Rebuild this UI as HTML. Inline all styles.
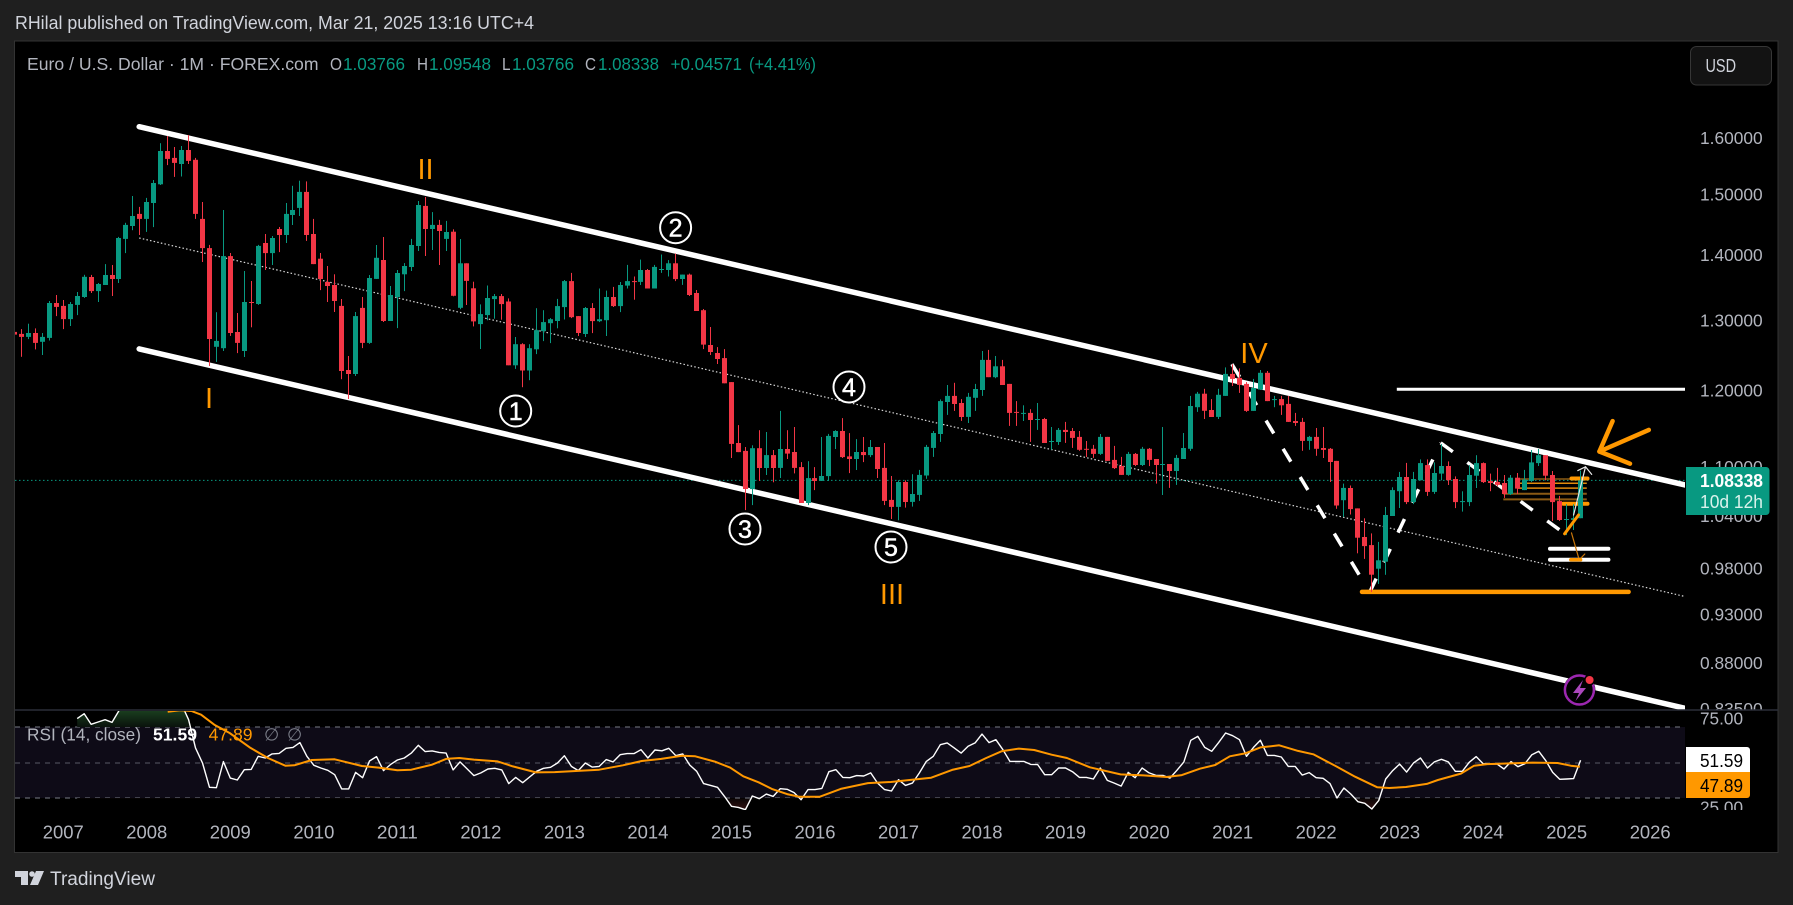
<!DOCTYPE html>
<html lang="en">
<head>
<meta charset="utf-8">
<title>EUR/USD Monthly Chart</title>
<style>
html,body{margin:0;padding:0;background:#1f1f1f;}
svg{display:block;font-family:"Liberation Sans",sans-serif;}
</style>
</head>
<body>
<svg id="chart" xmlns="http://www.w3.org/2000/svg" width="1793" height="905" viewBox="0 0 1793 905">
  <defs>
    <clipPath id="clip-main"><rect x="15" y="42" width="1670" height="668"/></clipPath>
    <clipPath id="clip-rsi"><rect x="15" y="711" width="1670" height="99"/></clipPath>
    <clipPath id="clip-above70"><rect x="15" y="711" width="1670" height="16"/></clipPath>
    <clipPath id="clip-below30"><rect x="15" y="798" width="1670" height="12"/></clipPath>
    <clipPath id="clip-price-axis"><rect x="1686" y="42" width="90" height="668"/></clipPath>
    <clipPath id="clip-rsi-axis"><rect x="1686" y="711" width="90" height="99"/></clipPath>
    <linearGradient id="ob-grad" gradientUnits="userSpaceOnUse" x1="0" y1="706" x2="0" y2="727">
      <stop offset="0" stop-color="#1f4a24"/><stop offset="1" stop-color="#0a120c"/>
    </linearGradient>
    <linearGradient id="os-grad" gradientUnits="userSpaceOnUse" x1="0" y1="798" x2="0" y2="812">
      <stop offset="0" stop-color="#0a0505"/><stop offset="1" stop-color="#3a1414"/>
    </linearGradient>
  </defs>

  <rect x="0" y="0" width="1793" height="905" fill="#1f1f1f"/>
  <text x="15" y="29" font-size="18" fill="#d1d4dc" textLength="519" lengthAdjust="spacingAndGlyphs">RHilal published on TradingView.com, Mar 21, 2025 13:16 UTC+4</text>

  <rect x="14.5" y="41" width="1763.5" height="811.5" fill="#000" stroke="#333" stroke-width="1"/>
  <rect x="15" y="727" width="1670" height="71" fill="#0e0b17"/>

  <g id="price-axis" clip-path="url(#clip-price-axis)"></g>
  <g id="main-under" clip-path="url(#clip-main)"></g>
  <g id="candles" clip-path="url(#clip-main)"></g>
  <g id="main-over" clip-path="url(#clip-main)"></g>

  <g>
    <text x="209" y="408" font-size="29" fill="#ff9800" text-anchor="middle">I</text>
    <text x="425.5" y="179" font-size="29" fill="#ff9800" text-anchor="middle">II</text>
    <text x="892" y="604" font-size="29" fill="#ff9800" text-anchor="middle">III</text>
    <text x="1254" y="363" font-size="29" fill="#ff9800" text-anchor="middle">IV</text>
    <g><circle cx="515.7" cy="411" r="15.5" fill="none" stroke="#fff" stroke-width="2"/><text x="515.7" y="420" font-size="25" fill="#fff" text-anchor="middle" stroke="#fff" stroke-width="0.5">1</text></g>
    <g><circle cx="675.6" cy="227.7" r="15.5" fill="none" stroke="#fff" stroke-width="2"/><text x="675.6" y="236.7" font-size="25" fill="#fff" text-anchor="middle" stroke="#fff" stroke-width="0.5">2</text></g>
    <g><circle cx="745" cy="529" r="15.5" fill="none" stroke="#fff" stroke-width="2"/><text x="745" y="538" font-size="25" fill="#fff" text-anchor="middle" stroke="#fff" stroke-width="0.5">3</text></g>
    <g><circle cx="849" cy="387" r="15.5" fill="none" stroke="#fff" stroke-width="2"/><text x="849" y="396" font-size="25" fill="#fff" text-anchor="middle" stroke="#fff" stroke-width="0.5">4</text></g>
    <g><circle cx="891" cy="547" r="15.5" fill="none" stroke="#fff" stroke-width="2"/><text x="891" y="556" font-size="25" fill="#fff" text-anchor="middle" stroke="#fff" stroke-width="0.5">5</text></g>
  </g>

  <g>
    <circle cx="1579.4" cy="690" r="16" fill="#000"/>
    <circle cx="1579.4" cy="690" r="14.5" fill="none" stroke="#9c27b0" stroke-width="2.5"/>
    <path d="M1583 680 L1573 693 L1579 693 L1575.5 701 L1586 688 L1580 688 Z" fill="#ab47bc"/>
    <circle cx="1589.6" cy="680" r="5.5" fill="#000"/>
    <circle cx="1589.6" cy="680" r="4" fill="#f23645"/>
  </g>

  <line x1="15" y1="710" x2="1778" y2="710" stroke="#2a2e39" stroke-width="1.5"/>

  <g>
    <line x1="15" y1="727" x2="1685" y2="727" stroke="#787b86" stroke-dasharray="5 5"/>
    <line x1="15" y1="763" x2="1685" y2="763" stroke="#787b86" stroke-opacity=".7" stroke-dasharray="5 5"/>
    <line x1="15" y1="798" x2="1685" y2="798" stroke="#787b86" stroke-dasharray="5 5"/>
  </g>
  <g id="rsi-pane"></g>
  <g id="rsi-axis" clip-path="url(#clip-rsi-axis)"></g>
  <g id="time-axis"></g>

  <g font-size="17.5">
    <text x="27" y="70" fill="#b2b5be" textLength="291.5" lengthAdjust="spacingAndGlyphs">Euro / U.S. Dollar · 1M · FOREX.com</text>
    <text x="330" y="70" fill="#b2b5be" textLength="12" lengthAdjust="spacingAndGlyphs">O</text>
    <text x="343" y="70" fill="#089981" textLength="62" lengthAdjust="spacingAndGlyphs">1.03766</text>
    <text x="417" y="70" fill="#b2b5be" textLength="11" lengthAdjust="spacingAndGlyphs">H</text>
    <text x="429" y="70" fill="#089981" textLength="62" lengthAdjust="spacingAndGlyphs">1.09548</text>
    <text x="502" y="70" fill="#b2b5be" textLength="8.5" lengthAdjust="spacingAndGlyphs">L</text>
    <text x="512" y="70" fill="#089981" textLength="62" lengthAdjust="spacingAndGlyphs">1.03766</text>
    <text x="585" y="70" fill="#b2b5be" textLength="11" lengthAdjust="spacingAndGlyphs">C</text>
    <text x="598" y="70" fill="#089981" textLength="61" lengthAdjust="spacingAndGlyphs">1.08338</text>
    <text x="670.5" y="70" fill="#089981" textLength="71.5" lengthAdjust="spacingAndGlyphs">+0.04571</text>
    <text x="749" y="70" fill="#089981" textLength="67" lengthAdjust="spacingAndGlyphs">(+4.41%)</text>
  </g>

  <g font-size="17.5">
    <text x="27" y="740.5" fill="#b2b5be" textLength="114" lengthAdjust="spacingAndGlyphs">RSI (14, close)</text>
    <text x="153" y="740.5" fill="#fff" font-weight="bold" textLength="44" lengthAdjust="spacingAndGlyphs">51.59</text>
    <text x="208.6" y="740.5" fill="#ff9800" textLength="44" lengthAdjust="spacingAndGlyphs">47.89</text>
    <text x="264" y="740.5" fill="#787b86">∅</text>
    <text x="287" y="740.5" fill="#787b86">∅</text>
  </g>

  <g>
    <rect x="1690.5" y="46.5" width="81" height="38.5" rx="6" fill="#131313" stroke="#363636"/>
    <text x="1705.5" y="72" font-size="18.5" fill="#d1d4dc" textLength="30.5" lengthAdjust="spacingAndGlyphs">USD</text>
  </g>

  <g>
    <path d="M1686 467 H1766 a3.5 3.5 0 0 1 3.5 3.5 V511.5 a3.5 3.5 0 0 1 -3.5 3.5 H1686 Z" fill="#089981"/>
    <text x="1700" y="487" font-size="18" fill="#fff" font-weight="bold" textLength="63" lengthAdjust="spacingAndGlyphs">1.08338</text>
    <text x="1700" y="508" font-size="18" fill="#d9f2ec" textLength="63" lengthAdjust="spacingAndGlyphs">10d 12h</text>
  </g>

  <g>
    <path d="M1686 747 H1747 a3 3 0 0 1 3 3 V772 H1686 Z" fill="#fff"/>
    <text x="1700" y="767" font-size="18" fill="#000" textLength="43" lengthAdjust="spacingAndGlyphs">51.59</text>
    <path d="M1686 772 H1750 V795 a3 3 0 0 1 -3 3 H1686 Z" fill="#ff9800"/>
    <text x="1700" y="792" font-size="18" fill="#000" textLength="43" lengthAdjust="spacingAndGlyphs">47.89</text>
  </g>

  <g>
    <path d="M15 871 H28 V885 H21 V877 H15 Z M36 871 H44 L38 885 H30 Z" fill="#d1d4dc"/>
    <circle cx="32" cy="874" r="2.8" fill="#d1d4dc"/>
    <text x="50" y="885" font-size="19" fill="#d1d4dc" textLength="105" lengthAdjust="spacingAndGlyphs">TradingView</text>
  </g>
</svg>

<script>
// ---------- candle data: monthly bars, first bar = June 2006 ----------
const firstBarYear = 2006;
const firstBarMonth = 6;
const opens = [
1.283,1.28,1.2757,1.2814,1.2686,1.2742,1.3259,1.3215,1.3018,1.323,
1.335,1.3658,1.344,1.3534,1.3689,1.3627,1.4263,1.4474,1.4675,1.4592,
1.4858,1.5178,1.5765,1.5642,1.5533,1.5783,1.5607,1.4592,1.4115,1.2614,
1.2594,1.3987,1.2828,1.2553,1.3274,1.3244,1.4197,1.4035,1.4425,1.4327,
1.4656,1.4777,1.5048,1.4343,1.3945,1.358,1.3534,1.3215,1.2285,1.2229,
1.3185,1.267,1.3627,1.3925,1.299,1.3349,1.37,1.3814,1.4148,1.4809,
1.4425,1.4492,1.4263,1.4381,1.3186,1.3872,1.3482,1.2944,1.3077,1.3319,
1.3364,1.3282,1.2351,1.2651,1.2278,1.2579,1.284,1.2958,1.299,1.3198,
1.3594,1.3062,1.2798,1.3183,1.2988,1.3002,1.335,1.3212,1.3524,1.3594,
1.358,1.3766,1.3479,1.3766,1.3766,1.3872,1.3625,1.3694,1.341,1.315,
1.2639,1.2525,1.2453,1.2116,1.1305,1.1203,1.0727,1.1238,1.0988,1.115,
1.0988,1.1227,1.1189,1.0999,1.0558,1.0862,1.0826,1.0887,1.1382,1.146,
1.1133,1.11,1.1189,1.115,1.1253,1.0988,1.0595,1.0511,1.0814,1.0571,
1.0655,1.0893,1.1241,1.1421,1.1845,1.1928,1.1832,1.1645,1.1902,1.2008,
1.2427,1.2185,1.2337,1.2092,1.1712,1.169,1.1699,1.1605,1.1618,1.1318,
1.1318,1.1475,1.146,1.1383,1.123,1.123,1.1165,1.1383,1.1089,1.1012,
1.0901,1.1165,1.1025,1.123,1.1101,1.1025,1.1038,1.095,1.1101,1.123,
1.1775,1.1957,1.1738,1.1645,1.1928,1.223,1.2174,1.2092,1.1726,1.2013,
1.2245,1.187,1.1884,1.1819,1.1592,1.1579,1.1331,1.1383,1.1241,1.123,
1.1076,1.0591,1.074,1.0493,1.0157,1.0063,.9797,.9875,1.0402,1.07,
1.0875,1.0569,1.0835,1.1024,1.0692,1.0917,1.1012,1.0851,1.0569,1.0569,
1.0892,1.1049,1.0825,1.0813,1.0801,1.0667,1.0867,1.0714,1.0825,1.1049,
1.1149,1.09,1.0581,1.0356,1.0356,1.03766];
const highs = [
1.284,1.287,1.295,1.288,1.2814,1.3289,1.338,1.3304,1.3274,1.3426,
1.3691,1.369,1.3564,1.386,1.3845,1.4295,1.4527,1.4978,1.4793,1.4944,
1.5253,1.5905,1.6037,1.5836,1.5854,1.6055,1.5642,1.4875,1.4166,1.312,
1.474,1.4035,1.3109,1.3751,1.3595,1.4166,1.4343,1.431,1.4457,1.4858,
1.5153,1.5241,1.5228,1.4592,1.4035,1.383,1.3699,1.332,1.2482,1.3123,
1.3349,1.3689,1.4165,1.4294,1.3518,1.3767,1.3875,1.4263,1.4892,1.496,
1.4705,1.4575,1.4558,1.442,1.4261,1.3872,1.3585,1.3238,1.3525,1.3396,
1.3396,1.3328,1.2755,1.2666,1.2651,1.318,1.315,1.3032,1.3321,1.361,
1.3721,1.3062,1.3198,1.3258,1.3479,1.3448,1.3504,1.358,1.3847,1.3665,
1.3931,1.3782,1.3847,1.4012,1.3923,1.4028,1.3694,1.371,1.3456,1.3168,
1.2901,1.261,1.2581,1.2116,1.1538,1.1253,1.1275,1.147,1.1447,1.1215,
1.1725,1.147,1.1512,1.1061,1.1073,1.0999,1.1382,1.1423,1.147,1.163,
1.1433,1.1355,1.1382,1.1343,1.1253,1.1305,1.0887,1.0835,1.0835,1.091,
1.0963,1.128,1.146,1.188,1.2077,1.2107,1.1884,1.1969,1.2092,1.2554,
1.2569,1.2482,1.2427,1.2092,1.1857,1.1801,1.1748,1.1832,1.1632,1.1512,
1.1499,1.1579,1.1499,1.146,1.1331,1.128,1.1421,1.1383,1.1267,1.1127,
1.119,1.1177,1.1254,1.1241,1.1101,1.1513,1.1038,1.1152,1.1434,1.1928,
1.1982,1.2025,1.1884,1.2025,1.2321,1.2364,1.2307,1.2116,1.2161,1.2285,
1.2271,1.1928,1.1928,1.1928,1.1699,1.1632,1.1396,1.1499,1.1513,1.1241,
1.1076,1.0794,1.077,1.0493,1.0375,1.0199,1.01,1.0511,1.0748,1.0938,
1.1051,1.0938,1.1095,1.1095,1.1057,1.1291,1.107,1.0883,1.07,1.1024,
1.1149,1.1057,1.0917,1.0988,1.09,1.09,1.0925,1.0963,1.1215,1.1227,
1.1149,1.095,1.0643,1.0544,1.0544,1.09548];
const lows = [
1.278,1.247,1.2725,1.2575,1.2497,1.2705,1.3063,1.287,1.2916,1.3078,
1.3335,1.341,1.3274,1.3534,1.3365,1.3564,1.4035,1.4405,1.4327,1.4376,
1.4457,1.5166,1.5515,1.5306,1.5312,1.5533,1.4592,1.3893,1.2341,1.2398,
1.2553,1.2771,1.2524,1.2468,1.2897,1.323,1.3767,1.3845,1.405,1.4197,
1.4492,1.464,1.4231,1.386,1.3455,1.3274,1.3123,1.2157,1.1885,1.22,
1.2594,1.2656,1.3627,1.2975,1.299,1.2885,1.344,1.3751,1.4067,1.3987,
1.4083,1.3845,1.4067,1.336,1.3165,1.3229,1.2911,1.2583,1.2999,1.3024,
1.3009,1.2351,1.23,1.2047,1.2143,1.2509,1.2695,1.2666,1.2883,1.3012,
1.3032,1.277,1.2755,1.2813,1.2973,1.277,1.3198,1.3122,1.3479,1.3308,
1.3534,1.3479,1.3479,1.3721,1.3665,1.3594,1.3534,1.3364,1.3138,1.258,
1.2496,1.2369,1.2101,1.1113,1.1189,1.0473,1.0533,1.0825,1.09,1.081,
1.0862,1.11,1.092,1.0558,1.0533,1.0715,1.0826,1.0826,1.1227,1.1113,
1.0924,1.0962,1.1061,1.1124,1.0862,1.0533,1.0367,1.0353,1.0503,1.0515,
1.0583,1.0853,1.1127,1.1318,1.1672,1.1726,1.1592,1.1565,1.1726,1.1928,
1.2185,1.2171,1.2077,1.1527,1.1527,1.1592,1.1318,1.1475,1.1305,1.1217,
1.128,1.1305,1.1241,1.1204,1.1127,1.1114,1.1152,1.1076,1.0975,1.0901,
1.0889,1.1012,1.1012,1.1012,1.0794,1.0655,1.0741,1.0778,1.1101,1.1204,
1.1712,1.1618,1.1645,1.1618,1.1928,1.2062,1.1969,1.1712,1.1726,1.2008,
1.1857,1.1775,1.1672,1.1579,1.1527,1.1204,1.1217,1.114,1.1114,1.0814,
1.0488,1.0392,1.042,.997,.9906,.954,.9628,.9729,1.0402,1.0497,
1.0544,1.0544,1.0835,1.0643,1.0667,1.0835,1.0777,1.0497,1.0456,1.0521,
1.074,1.0801,1.07,1.076,1.0619,1.0655,1.0667,1.0714,1.0813,1.1012,
1.0835,1.0344,1.0344,1.0179,1.0239,1.03766];
const closes = [
1.279,1.2757,1.2814,1.267,1.2757,1.3259,1.32,1.3018,1.3244,1.3365,
1.366,1.344,1.3549,1.3689,1.3627,1.4278,1.4492,1.464,1.4592,1.4875,
1.5201,1.5765,1.5624,1.5554,1.5783,1.5589,1.4675,1.4115,1.2727,1.2699,
1.3987,1.2814,1.267,1.3274,1.3259,1.415,1.4035,1.4278,1.4327,1.4675,
1.474,1.5048,1.4327,1.386,1.3627,1.3518,1.3289,1.227,1.2229,1.3063,
1.267,1.3642,1.3959,1.299,1.338,1.372,1.383,1.4165,1.4825,1.4425,
1.4492,1.4392,1.4376,1.3368,1.3872,1.3596,1.2983,1.3092,1.3334,1.3364,
1.3243,1.2351,1.2651,1.2278,1.2594,1.2855,1.2973,1.3017,1.3212,1.3594,
1.3047,1.2813,1.3183,1.2988,1.3017,1.335,1.3212,1.3534,1.3594,1.358,
1.3766,1.3479,1.3815,1.3782,1.3872,1.3625,1.3694,1.338,1.3138,1.2645,
1.2539,1.2439,1.2101,1.1292,1.1189,1.0727,1.1238,1.0988,1.115,1.0988,
1.1227,1.1168,1.0988,1.0558,1.0862,1.0826,1.0887,1.1397,1.146,1.1124,
1.11,1.1189,1.115,1.1253,1.0975,1.0583,1.0511,1.0813,1.0571,1.0667,
1.0901,1.1254,1.1434,1.1857,1.1928,1.1819,1.1645,1.1915,1.2022,1.2427,
1.2185,1.2337,1.2077,1.1699,1.1699,1.1699,1.1605,1.1618,1.1305,1.1331,
1.1475,1.1447,1.137,1.1217,1.1217,1.1165,1.1383,1.1076,1.0986,1.0901,
1.1165,1.1025,1.123,1.1089,1.1025,1.1038,1.095,1.1114,1.1241,1.1791,
1.1957,1.1726,1.1645,1.1942,1.223,1.2161,1.2077,1.1726,1.2036,1.2245,
1.1857,1.1884,1.1801,1.1579,1.1565,1.1331,1.1383,1.123,1.1217,1.1063,
1.0527,1.0741,1.0485,1.0149,1.0052,.9729,.9891,1.0414,1.0714,1.0875,
1.0569,1.0851,1.1049,1.0692,1.0925,1.1012,1.0835,1.0569,1.0581,1.09,
1.1049,1.0813,1.0801,1.0777,1.0667,1.0867,1.0733,1.0843,1.1057,1.1149,
1.0892,1.0569,1.0356,1.0367,1.03766,1.08338];
const lastPrice = 1.08338;

// ---------- RSI data: starts March 2007 (bar 9) ----------
const rsiFirstBar = 9;
const rsiValues = [
75,77.8,71.8,73.1,74.4,72.9,79.5,
82,84,85,83,85,86,87,84,83,74.4,
58.5,50,36.3,36.1,50.8,41.5,40.4,46.2,46.4,53.8,52.8,55.1,55.4,58.3,58.8,61.5,53.8,48.7,47.2,45.9,
43.4,35.4,35.4,44.7,41.7,51.1,53.6,45.7,49.1,51.7,52.8,55.6,60,56.4,56.8,56,55.6,46.1,50.6,46.8,
42.9,44.4,46.6,47,46.1,38.4,41.9,38.9,42.1,45.3,47,47.6,50,54.1,48.1,45.7,50,47.7,
48.1,51.9,50.6,54.7,55.3,55.3,57.5,52.8,57.3,56.9,58.3,54.1,55.1,48.9,45.3,38.4,37.4,36.3,31.2,25.6,
25,23.7,31.4,29.9,32.5,31.2,35.5,35.2,33.3,29.3,35,35,35.7,45.1,46.2,41.9,41.7,42.9,42.7,44.4,
38.7,35,34.2,40.6,37.4,38.7,44.4,50.9,53.8,60.3,61.3,58.5,55.6,59.4,61.3,66.3,61.5,63.1,57.5,50.9,
50.9,50.9,49.2,49.1,43.4,43.4,47.2,47.2,45.1,41.9,41.9,41,47.2,40.2,38.7,37,44.7,41.7,47.2,44.4,
43,43,41.5,45.9,50.6,62.8,65,
58.8,56.6,61.6,66.9,65.4,63.1,53.8,58.8,62.8,54.3,54.3,53.4,48.1,48.1,43.2,44.6,41.7,41.4,38.4,30.3,
35.9,32.5,28.2,27.3,24.1,28.8,41,45.7,49.4,44.9,50,52.8,47.2,50.6,52.1,50.6,45.3,45.3,50.4,53.6,
49.6,49.4,49.4,46.6,50.8,47.9,49.6,54.7,56.6,51.3,44.7,40.8,41,41.2,51.59];
// RSI moving average, read at the marked months (months since January 2007)
const rsiMaMonths = [15,16.8,18.4,19.8,21.7,23.9,26.9,29.4,31.9,33.2,35.7,39,42.9,45.3,48,50,53,55,56.9,59,62.4,64.6,67.9,70.6,
77,80.4,83.1,85.9,88.9,90.8,93.6,95.8,97.7,99.9,101.8,104,105.7,108.7,111.7,115.6,118.9,121.6,124.7,127.7,130.2,132.6,134.8,137.3,139.5,142,144.2,147.5,151.9,155.2,158.5,160.7,163.3,
165.5,167.6,169.8,172,174.7,177.4,179.6,182.9,185.6,188.8,190.5,192.9,195.9,197.5,200.8,202.7,204.6,207.9,211.1,214.7,216.6,217.9];
const rsiMaValues = [78.9,79.7,79.3,77.2,71.6,66.9,58.5,52.8,48.5,48.7,51.7,52.1,48.3,47.4,45.9,46.2,49.1,52.3,52.8,51.9,50.9,48.1,44.7,44.9,
46.2,48.7,51.1,52.3,54.1,53.8,50.8,47.4,42.5,39.1,35.4,32.5,31,31,35.4,38.7,39.3,40.4,41.7,46.1,48.3,52.8,56.6,58.1,57.3,54.7,52.8,47.6,43.6,43,42.1,43.2,46.8,
48.9,53.8,55.4,58.8,60,56.8,54.9,48.1,42.3,36.3,35.9,36.5,38.2,40.4,44,48.5,49.4,49.8,50.2,50,48.5,47.89];

// ---------- axis labels ----------
const priceTicks = [1.6,1.5,1.4,1.3,1.2,1.1,1.04,0.98,0.93,0.88,0.835];
const priceTickLabels = ['1.60000','1.50000','1.40000','1.30000','1.20000','1.10000','1.04000','0.98000','0.93000','0.88000','0.83500'];
const yearLabels = [2007,2008,2009,2010,2011,2012,2013,2014,2015,2016,2017,2018,2019,2020,2021,2022,2023,2024,2025,2026];
const rsiTicks = [75,25];
const rsiTickLabels = ['75.00','25.00'];

// ---------- drawings: [months since January 2007, price] ----------
const channelUpper = [[10.9,1.6207],[233,1.0776]];
const channelLower = [[10.9,1.2584],[233,0.8357]];
const channelMiddle = [[10.9,1.4278],[233,0.9491]];
const zigzagDown = [[167.9,1.2368],[187.7,0.9538]];
const zigzagUp = [[187.7,0.9538],[197.9,1.1306]];
const zigzagLast = [[197.9,1.1306],[215,1.0238]];
const resistanceLevel = [[191.6,1.2019],[233,1.2019]];
const supportLevel = [[186.6,0.9541],[224.9,0.9541]];
const targetUpper = [[213.6,1.0022],[222,1.0022]];
const targetLower = [[213.6,0.9896],[222,0.9896]];
const ladderOne = [[209,1.0851],[218.9,1.0851]];
const ladderTwo = [[209,1.0798],[218.9,1.0798]];
const ladderThree = [[209,1.0738],[218.9,1.0738]];
const ladderFour = [[206.9,1.067],[218.9,1.067]];
const ladderFive = [[206.9,1.0601],[218.9,1.0601]];
const zoneTop = [[216.7,1.0857],[219,1.0857]];
const zoneBottom = [[215.5,1.0549],[219,1.0549]];
const impulseLeg = [[215.7,1.0194],[217.7,1.0415]];
const targetArrow = [[216.7,1.0204],[217.8,0.9896]];
const targetArrowHead = [[218.6,0.9962],[217.8,0.9896]];
const targetBar = [[216.6,0.9896],[218,0.9896]];
const breakoutArrow = [[217,1.0415],[218.7,1.1002]];
const breakoutArrowHead = [[217.6,1.0955],[218.7,1.1002],[219.6,1.0908]];
const bigArrowHead = [[222.6,1.159],[220.7,1.1196],[225.1,1.1041]];
const bigArrowTail = [[220.7,1.1196],[227.8,1.1475]];

// ---------- axis functions ----------
const SVGNS = 'http://www.w3.org/2000/svg';
function xOfMonth(m){ return 63.3 + 6.96 * m; }
function yOfPrice(p){ return 138 + 878 * (Math.log(1.6) - Math.log(p)); }
function yOfRsi(v){ return 763 - (v - 50) * 1.775; }
const barsBeforeJan2007 = (2007 - firstBarYear) * 12 - (firstBarMonth - 1);
function xOfBar(i){ return xOfMonth(i - barsBeforeJan2007); }

function el(tag, attrs){
  const e = document.createElementNS(SVGNS, tag);
  for (const k in attrs) e.setAttribute(k, attrs[k]);
  return e;
}

function drawLine(parent, pts, name, color, width, opts){
  opts = opts || {};
  const d = pts.map(function(p){ return xOfMonth(p[0]).toFixed(1) + ',' + yOfPrice(p[1]).toFixed(1); }).join(' ');
  const line = el('polyline', {points:d, fill:'none', stroke:color, 'stroke-width':width, 'stroke-linecap':opts.cap || 'round', 'stroke-linejoin':'round'});
  if (opts.dash) line.setAttribute('stroke-dasharray', opts.dash);
  
  
  parent.appendChild(line);
}

// ---------- drawings under candles ----------
const under = document.getElementById('main-under');
const lastLine = el('line', {x1:15, x2:1685, y1:yOfPrice(lastPrice), y2:yOfPrice(lastPrice), stroke:'#089981', 'stroke-width':1, 'stroke-dasharray':'1.5 2.5'});


under.appendChild(lastLine);
drawLine(under, channelMiddle, 'channel-middle-line', '#d8d8d8', 1.2, {dash:'1.5 2.2', cap:'butt'});
drawLine(under, channelUpper, 'channel-upper-line', '#ffffff', 5.5);
drawLine(under, channelLower, 'channel-lower-line', '#ffffff', 5.5);
drawLine(under, zigzagDown, 'zigzag-down-leg', '#ffffff', 3.5, {dash:'15 18', cap:'butt'});
drawLine(under, zigzagUp, 'zigzag-up-leg', '#ffffff', 3.5, {dash:'15 18', cap:'butt'});
drawLine(under, zigzagLast, 'zigzag-last-leg', '#ffffff', 3.5, {dash:'15 18', cap:'butt'});
drawLine(under, resistanceLevel, 'resistance-level', '#ffffff', 3, {cap:'butt'});
drawLine(under, supportLevel, 'support-level', '#ff9800', 4.5);
drawLine(under, targetUpper, 'target-level-upper', '#ffffff', 4);
drawLine(under, targetLower, 'target-level-lower', '#ffffff', 4);
drawLine(under, ladderOne, 'fib-level-1', '#8b5a14', 1.5, {cap:'butt'});
drawLine(under, ladderTwo, 'fib-level-2', '#e08a0c', 1.5, {cap:'butt'});
drawLine(under, ladderThree, 'fib-level-3', '#e08a0c', 1.5, {cap:'butt'});
drawLine(under, ladderFour, 'fib-level-4', '#8b5a14', 2, {cap:'butt'});
drawLine(under, ladderFive, 'fib-level-5', '#8b5a14', 2, {cap:'butt'});
drawLine(under, zoneTop, 'zone-top', '#ff9800', 4);
drawLine(under, zoneBottom, 'zone-bottom', '#ff9800', 4);

// ---------- candles ----------
const candleGroup = document.getElementById('candles');
const GREEN = '#089981';
const RED = '#f23645';
for (let i = 0; i < closes.length; i++) {
  const cx = xOfBar(i);
  const up = closes[i] >= opens[i];
  const color = up ? GREEN : RED;
  const left = Math.round(cx - 2.5);
  const yH = yOfPrice(highs[i]);
  const yL = yOfPrice(lows[i]);
  const yTop = yOfPrice(Math.max(opens[i], closes[i]));
  const yBot = yOfPrice(Math.min(opens[i], closes[i]));
  const g = el('g', {});
  
  
  const wick = el('rect', {x:left + 2, y:yH.toFixed(1), width:1, height:Math.max(1, yL - yH).toFixed(1), fill:color});
  
  
  const body = el('rect', {x:left, y:yTop.toFixed(1), width:5, height:Math.max(1, yBot - yTop).toFixed(1), fill:color});
  
  
  g.appendChild(wick);
  g.appendChild(body);
  candleGroup.appendChild(g);
}

// ---------- drawings over candles ----------
const over = document.getElementById('main-over');
drawLine(over, impulseLeg, 'impulse-leg', '#ff9800', 3);
drawLine(over, targetArrow, 'target-arrow', '#c9760a', 1.2);
drawLine(over, targetArrowHead, 'target-arrow-head', '#c9760a', 1.2);
drawLine(over, targetBar, 'target-bar', '#ff9800', 3.5);
drawLine(over, breakoutArrow, 'breakout-arrow', '#e8e8e8', 1.2);
drawLine(over, breakoutArrowHead, 'breakout-arrow-head', '#e8e8e8', 1.2);
drawLine(over, bigArrowHead, 'big-arrow-head', '#ff9800', 4.5);
drawLine(over, bigArrowTail, 'big-arrow-tail', '#ff9800', 4.5);

// ---------- price axis ----------
const priceAxis = document.getElementById('price-axis');
priceTicks.forEach(function(p, k){
  const t = el('text', {x:1700, y:(yOfPrice(p) + 6).toFixed(1), 'font-size':17.5, fill:'#b2b5be', textLength:62.6, lengthAdjust:'spacingAndGlyphs'});
  
  
  t.textContent = priceTickLabels[k];
  priceAxis.appendChild(t);
});

// ---------- time axis ----------
const timeAxis = document.getElementById('time-axis');
yearLabels.forEach(function(y){
  const t = el('text', {x:xOfMonth((y - 2007) * 12).toFixed(1), y:838.5, 'font-size':18.5, fill:'#b2b5be', 'text-anchor':'middle', textLength:41, lengthAdjust:'spacingAndGlyphs'});
  
  
  t.textContent = String(y);
  timeAxis.appendChild(t);
});

// ---------- RSI pane ----------
const rsiPane = document.getElementById('rsi-pane');
const rsiPts = rsiValues.map(function(v, k){ return [xOfBar(rsiFirstBar + k), yOfRsi(v)]; });
const rsiStr = rsiPts.map(function(p){ return p[0].toFixed(1) + ',' + p[1].toFixed(1); }).join(' ');
const firstX = rsiPts[0][0].toFixed(1);
const lastX = rsiPts[rsiPts.length - 1][0].toFixed(1);

const obFill = el('polygon', {points:firstX + ',' + yOfRsi(70) + ' ' + rsiStr + ' ' + lastX + ',' + yOfRsi(70), fill:'url(#ob-grad)', 'clip-path':'url(#clip-above70)'});


rsiPane.appendChild(obFill);

const osFill = el('polygon', {points:firstX + ',' + yOfRsi(30) + ' ' + rsiStr + ' ' + lastX + ',' + yOfRsi(30), fill:'url(#os-grad)', 'clip-path':'url(#clip-below30)'});


rsiPane.appendChild(osFill);

const clipWrap = el('g', {'clip-path':'url(#clip-rsi)'});


rsiPane.appendChild(clipWrap);

const rsiLine = el('polyline', {points:rsiStr, fill:'none', stroke:'#ffffff', 'stroke-width':1.4, 'stroke-linejoin':'round'});


clipWrap.appendChild(rsiLine);

const maStr = rsiMaValues.map(function(v, k){ return xOfMonth(rsiMaMonths[k]).toFixed(1) + ',' + yOfRsi(v).toFixed(1); }).join(' ');
const maLine = el('polyline', {points:maStr, fill:'none', stroke:'#ff9800', 'stroke-width':2, 'stroke-linejoin':'round'});


clipWrap.appendChild(maLine);

const rsiAxis = document.getElementById('rsi-axis');
rsiTicks.forEach(function(v, k){
  const t = el('text', {x:1700, y:(yOfRsi(v) + 6).toFixed(1), 'font-size':17.5, fill:'#b2b5be', textLength:43, lengthAdjust:'spacingAndGlyphs'});
  
  
  t.textContent = rsiTickLabels[k];
  rsiAxis.appendChild(t);
});
</script>
</body>
</html>
